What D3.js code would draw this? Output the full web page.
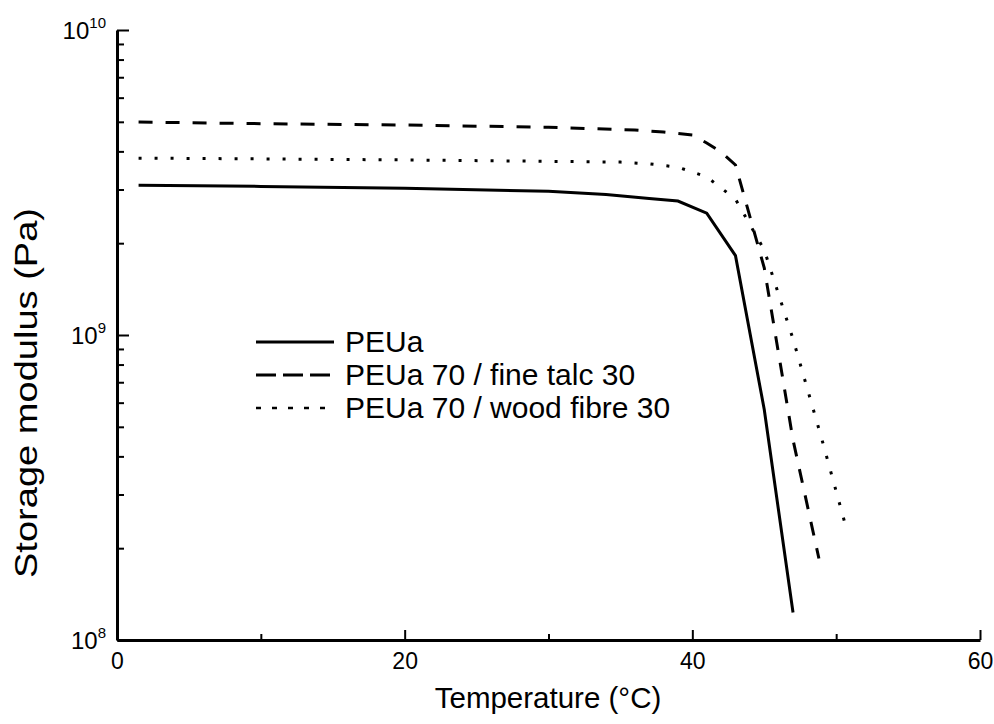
<!DOCTYPE html>
<html>
<head>
<meta charset="utf-8">
<script src="https://cdn.jsdelivr.net/npm/d3@7"></script>
<style>
  body { margin: 0; background: #fff; }
  svg { font-family: "Liberation Sans", Arial, Helvetica, sans-serif; }
</style>
</head>
<body>
<script>
'use strict';

// temperatures (°C) and storage modulus (Pa)
let peuaT = [1.5, 10, 20, 30, 34, 37, 39, 41, 43, 45, 47];
let peuaG = [3.10e9, 3.07e9, 3.03e9, 2.96e9, 2.89e9, 2.80e9, 2.75e9, 2.51e9, 1.82e9, 5.7e8, 1.23e8];

let talcT = [1.5, 10, 20, 30, 36, 38, 40, 41, 42, 43, 45, 47, 48.8];
let talcG = [4.99e9, 4.93e9, 4.88e9, 4.80e9, 4.70e9, 4.63e9, 4.53e9, 4.26e9, 3.98e9, 3.61e9, 1.66e9, 4.53e8, 1.85e8];

let woodT = [1.5, 10, 20, 30, 35, 37, 39, 41, 43, 45, 47, 49, 50.8];
let woodG = [3.80e9, 3.78e9, 3.75e9, 3.71e9, 3.69e9, 3.64e9, 3.55e9, 3.30e9, 2.79e9, 1.90e9, 9.7e8, 4.56e8, 2.24e8];

let seriesNames = ['PEUa', 'PEUa 70 / fine talc 30', 'PEUa 70 / wood fibre 30'];
let xTicks = [0, 10, 20, 30, 40, 50, 60];
let xLabels = [0, 20, 40, 60];
let yDecades = [8, 9, 10];

let width = 994;
let height = 724;

let x = d3.scaleLinear().domain([0, 60]).range([117, 980]);
let y = d3.scaleLog().domain([1e8, 1e10]).range([640, 30]);

let svg = d3.select('body').append('svg')
  .attr('width', width)
  .attr('height', height);

let zip = (ts, gs) => ts.map((t, i) => ({t: t, g: gs[i]}));

let series = [
  {name: seriesNames[0], data: zip(peuaT, peuaG), dash: null, legDash: null},
  {name: seriesNames[1], data: zip(talcT, talcG), dash: '14,13', legDash: '20,7'},
  {name: seriesNames[2], data: zip(woodT, woodG), dash: '3,13', legDash: '5,11'}
];

let line = d3.line()
  .x(function(d) { return x(d.t); })
  .y(function(d) { return y(d.g); });

svg.append('g')
    .attr('class', 'curves')
  .selectAll('path')
  .data(series)
  .enter().append('path')
    .attr('d', function(d) { return line(d.data); })
    .attr('fill', 'none')
    .attr('stroke', '#000')
    .attr('stroke-width', 3)
    .attr('stroke-dasharray', function(d) { return d.dash; });

// x axis: ticks point inward
let xAxis = svg.append('g')
  .attr('transform', 'translate(0,640)')
  .call(d3.axisBottom(x)
    .tickValues(xTicks)
    .tickSizeInner(-6)
    .tickSizeOuter(0)
    .tickPadding(13)
    .tickFormat(function(d) { return xLabels.indexOf(d) >= 0 ? d : ''; }));

xAxis.selectAll('.tick line')
  .attr('y2', function(d) { return xLabels.indexOf(d) >= 0 ? -10 : -6; })
  .attr('stroke-width', 2);
xAxis.select('.domain').attr('stroke-width', 3);
xAxis.selectAll('text')
  .attr('font-size', 23)
  .attr('font-family', null)
  .attr('fill', '#000');

// y axis with minor ticks
let yTickVals = [];
for (let e = 8; e < 10; e++) {
  for (let m = 1; m < 10; m++) yTickVals.push(m * Math.pow(10, e));
}
yTickVals.push(1e10);

let yAxis = svg.append('g')
  .attr('transform', 'translate(117,0)')
  .call(d3.axisLeft(y)
    .tickValues(yTickVals)
    .tickSizeInner(-6)
    .tickSizeOuter(0)
    .tickFormat(''));

yAxis.selectAll('.tick line')
  .attr('x2', function(d) {
    let l = Math.log10(d);
    return Math.abs(l - Math.round(l)) < 1e-9 ? 12 : 7;
  })
  .attr('stroke-width', 2);
yAxis.select('.domain').attr('stroke-width', 3);

let yLab = svg.append('g')
  .selectAll('text')
  .data(yDecades)
  .enter().append('text')
    .attr('x', 106)
    .attr('y', function(d) { return y(Math.pow(10, d)) + 9; })
    .attr('text-anchor', 'end')
    .style('font-size', '24px');
yLab.append('tspan').text('10');
yLab.append('tspan')
  .style('font-size', '15px')
  .attr('dy', -11)
  .text(function(d) { return d; });

// axis titles
svg.append('text')
  .attr('x', 548)
  .attr('y', 708)
  .attr('text-anchor', 'middle')
  .style('font-size', '29.5px')
  .text('Temperature (°C)');

svg.append('text')
  .attr('transform', 'translate(37,393) rotate(-90)')
  .attr('text-anchor', 'middle')
  .attr('textLength', 370)
  .attr('lengthAdjust', 'spacingAndGlyphs')
  .style('font-size', '31px')
  .text('Storage modulus (Pa)');

// legend
let legend = svg.append('g')
    .attr('class', 'legend')
  .selectAll('g')
  .data(series)
  .enter().append('g')
    .attr('transform', function(d, i) { return 'translate(0,' + [342, 375, 408][i] + ')'; });

legend.append('line')
  .attr('x1', 256)
  .attr('x2', 334)
  .attr('stroke', '#000')
  .attr('stroke-width', function(d, i) { return i === 2 ? 2.5 : 3; })
  .attr('stroke-dasharray', function(d) { return d.legDash; });

legend.append('text')
  .attr('x', 345)
  .attr('y', 10)
  .style('font-size', '30px')
  .text(function(d) { return d.name; });
</script>
</body>
</html>
